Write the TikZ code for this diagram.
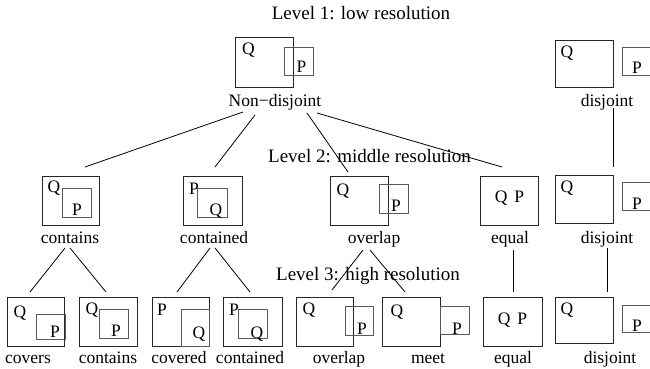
\documentclass[tikz,border=0pt]{standalone}
\usepackage{fontspec}
\setmainfont{Liberation Serif}
\begin{document}
\begin{tikzpicture}[x=1pt,y=-1pt,
  outerbox/.style={draw=black!85,line width=0.9pt},
  innerbox/.style={draw=black!65,line width=0.9pt},
  conn/.style={draw=black,line width=0.8pt},
  lbl/.style={anchor=base,inner sep=0pt,font=\fontsize{17.5}{20}\selectfont},
  lev/.style={anchor=base,inner sep=0pt,font=\fontsize{19}{22}\selectfont}]
\useasboundingbox (0,0) rectangle (650,369);
% level titles
\node[lev] (lv1) at (361,20) {Level 1: low resolution};
\node[lev] (lv2) at (369.5,162) {Level 2: middle resolution};
\node[lev] (lv3) at (368,280) {Level 3: high resolution};
% ---- Level 1
\draw[outerbox] (235,37) rectangle (293,87);
\draw[innerbox] (284,47) rectangle (313,75);
\node[lbl] (nq) at (248.5,55) {Q};
\node[lbl] (np) at (301.5,73) {P};
\node[lbl] (nd) at (275,106) {Non−disjoint};
\draw[outerbox] (555,40) rectangle (613,87);
\draw[innerbox] (651,47) -- (622,47) -- (622,75) -- (651,75);
\node[lbl] (d1q) at (567,57) {Q};
\node[lbl] (d1p) at (637,74) {P};
\node[lbl] (d1) at (607,106) {disjoint};
% ---- Level 2
\draw[outerbox] (42,176) rectangle (99,225);
\draw[innerbox] (62,188) rectangle (91,217);
\node[lbl] (c2q) at (54,192) {Q};
\node[lbl] (c2p) at (77,215) {P};
\node[lbl] (c2) at (70,243) {contains};
\draw[outerbox] (183,176) rectangle (242,225);
\draw[innerbox] (197,188) rectangle (227,217);
\node[lbl] (k2p) at (194,194) {P};
\node[lbl] (k2q) at (216,215) {Q};
\node[lbl] (k2) at (214,243) {contained};
\draw[outerbox] (330,176) rectangle (388,225);
\draw[innerbox] (379,184) rectangle (408,213);
\node[lbl] (o2q) at (343,195) {Q};
\node[lbl] (o2p) at (396,211) {P};
\node[lbl] (o2) at (374,243) {overlap};
\draw[outerbox] (480,176) rectangle (538,225);
\node[lbl] (e2qp) at (509.5,202) {Q\hspace{0.4em}P};
\node[lbl] (e2) at (510,243) {equal};
\draw[outerbox] (555,175) rectangle (613,223);
\draw[innerbox] (651,182) -- (622,182) -- (622,210) -- (651,210);
\node[lbl] (d2q) at (567,192) {Q};
\node[lbl] (d2p) at (637,209) {P};
\node[lbl] (d2) at (607,243) {disjoint};
% ---- Level 3
\draw[outerbox] (7,297) rectangle (64,346);
\draw[innerbox] (36,314) rectangle (65,339);
\node[lbl] (a3q) at (20,317) {Q};
\node[lbl] (a3p) at (55,337) {P};
\node[lbl] (a3) at (28,363) {covers};
\draw[outerbox] (79,297) rectangle (137,346);
\draw[innerbox] (99,309) rectangle (128,338);
\node[lbl] (b3q) at (92,314) {Q};
\node[lbl] (b3p) at (116,336.5) {P};
\node[lbl] (b3) at (108,363) {contains};
\draw[outerbox] (152,297) rectangle (209,346);
\draw[innerbox] (181,309) rectangle (209,346);
\node[lbl] (c3p) at (162,315) {P};
\node[lbl] (c3q) at (199,338) {Q};
\node[lbl] (c3) at (179,363) {covered};
\draw[outerbox] (223,297) rectangle (282,346);
\draw[innerbox] (238,309) rectangle (267,338);
\node[lbl] (k3p) at (234,315) {P};
\node[lbl] (k3q) at (257,338) {Q};
\node[lbl] (k3) at (250,363) {contained};
\draw[outerbox] (296,297) rectangle (353,346);
\draw[innerbox] (345,306) rectangle (373,335);
\node[lbl] (o3q) at (309,314) {Q};
\node[lbl] (o3p) at (362,334) {P};
\node[lbl] (o3) at (339,363) {overlap};
\draw[outerbox] (382,297) rectangle (440,346);
\draw[innerbox] (440,306) rectangle (469,334);
\node[lbl] (m3q) at (397,316) {Q};
\node[lbl] (m3p) at (457,334) {P};
\node[lbl] (m3) at (428,363) {meet};
\draw[outerbox] (483,297) rectangle (542,346);
\node[lbl] (e3qp) at (512.5,324) {Q\hspace{0.4em}P};
\node[lbl] (e3) at (513,363) {equal};
\draw[outerbox] (555,297) rectangle (613,343);
\draw[innerbox] (651,305) -- (622,305) -- (622,332) -- (651,332);
\node[lbl] (d3q) at (567,314) {Q};
\node[lbl] (d3p) at (637,331) {P};
\node[lbl] (d3) at (610,363) {disjoint};
% ---- connector end points
\coordinate (n1s) at (243,112); \coordinate (n1e) at (85,167);
\coordinate (n2s) at (255,115); \coordinate (n2e) at (215,167);
\coordinate (n3s) at (307,113); \coordinate (n3e) at (348,172);
\coordinate (n4s) at (317,113); \coordinate (n4e) at (502,167);
\coordinate (ds1) at (613,108); \coordinate (de1) at (613,167);
\coordinate (ds2) at (607,248); \coordinate (de2) at (607,292);
\coordinate (es) at (513,250); \coordinate (ee) at (513,292);
\coordinate (c1s) at (65,248); \coordinate (c1e) at (30,292);
\coordinate (c2s) at (70,248); \coordinate (c2e) at (106,292);
\coordinate (k1s) at (210,248); \coordinate (k1e) at (177,292);
\coordinate (k2s) at (215,248); \coordinate (k2e) at (250,292);
\coordinate (o1s) at (363,250); \coordinate (o1e) at (332,290);
\coordinate (o2s) at (370,250); \coordinate (o2e) at (405,292);
\draw[conn] (n1s) -- (n1e);
\draw[conn] (n2s) -- (n2e);
\draw[conn] (n3s) -- (n3e);
\draw[conn] (n4s) -- (n4e);
\draw[conn] (ds1) -- (de1);
\draw[conn] (ds2) -- (de2);
\draw[conn] (es) -- (ee);
\draw[conn] (c1s) -- (c1e);
\draw[conn] (c2s) -- (c2e);
\draw[conn] (k1s) -- (k1e);
\draw[conn] (k2s) -- (k2e);
\draw[conn] (o1s) -- (o1e);
\draw[conn] (o2s) -- (o2e);
\end{tikzpicture}
\end{document}
